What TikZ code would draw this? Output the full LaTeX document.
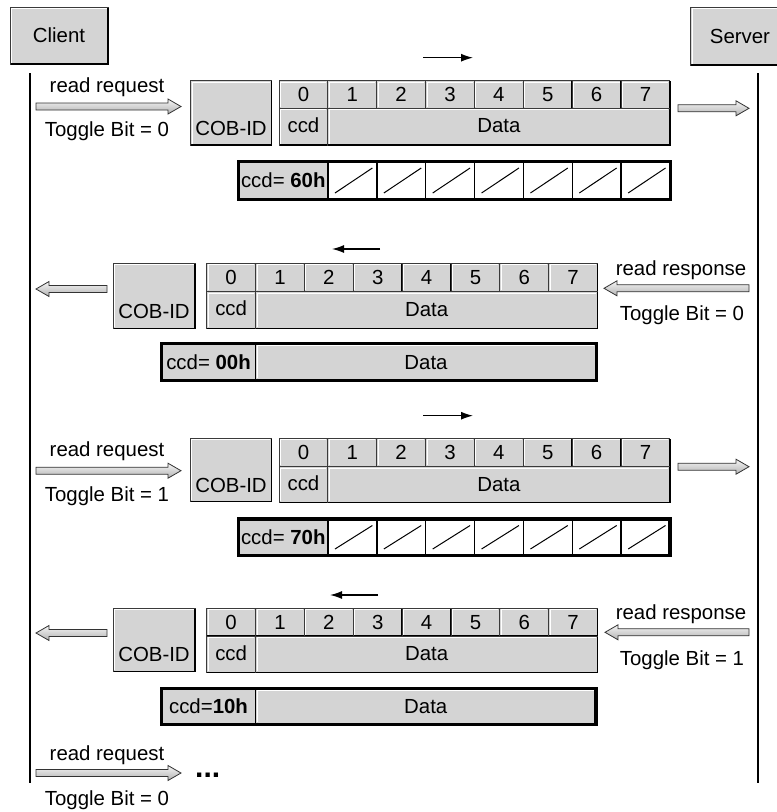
\documentclass[tikz,border=0pt]{standalone}
\usepackage{fontspec}
\setmainfont{Liberation Sans}
\usetikzlibrary{arrows.meta}
\definecolor{cellgray}{HTML}{D4D4D4}
\definecolor{edgedark}{HTML}{3A3A3A}
\tikzset{
  lbl/.style={font=\fontsize{20.4}{24}\selectfont, inner sep=0pt, text height=14.6pt, text depth=0pt},
  lifeline/.style={line width=1.5pt, black},
  dirarrow/.style={line width=1.3pt, -{Latex[length=12pt,width=8pt]}},
  hollow/.style={draw=black!80, line width=0.8pt, top color=gray!8, bottom color=gray!60},
  ccdframe/.style={line width=3.2pt, black},
  ccdsep/.style={line width=1.5pt, black},
  slash/.style={line width=1pt, black},
}
\newcommand{\bevelbox}[4]{%
  \fill[cellgray] (#1,#2) rectangle (#3,#4);
  \draw[white, line width=1pt] (#1+1.5,#4-1.5) -- (#1+1.5,#2+1.5) -- (#3-1.5,#2+1.5);
  \draw[edgedark, line width=0.8pt] (#1,#2) rectangle (#3,#4);
  \draw[black, line width=1.4pt] (#1+0.5,#4) -- (#3,#4) -- (#3,#2+0.5);
}
\newcommand{\hollowarrow}[4]{%
  \pgfmathsetmacro\hx{(#3>#2)?(#3-13):(#3+13)}
  \coordinate (#1s) at (#2,#4);
  \coordinate (#1e) at (#3,#4);
  \path[hollow] (#2,#4-3.5) -- (\hx,#4-3.5) -- (\hx,#4-7.5) -- (#3,#4) -- (\hx,#4+7.5) -- (\hx,#4+3.5) -- (#2,#4+3.5) -- cycle;
}
\newcommand{\hdrtable}[5]{%
  \foreach \i in {0,...,7}{
    \pgfmathsetmacro\xa{#2+\i*48.86}
    \pgfmathsetmacro\xb{#2+(\i+1)*48.86}
    \bevelbox{\xa}{#3}{\xb}{#4}
    \node[lbl] (#1h\i) at ({(\xa+\xb)/2},{(#3+#4)/2}) {\i};
  }
  \pgfmathsetmacro\xc{#2+48.86}
  \pgfmathsetmacro\xd{#2+8*48.86}
  \bevelbox{#2}{#4}{\xc}{#5}
  \bevelbox{\xc}{#4}{\xd}{#5}
  \node[lbl] (#1ccd) at ({(#2+\xc)/2},{(#4+#5)/2-1.5}) {ccd};
  \node[lbl] (#1data) at ({(\xc+\xd)/2},{(#4+#5)/2-1}) {Data};
}
% ccd row with slashes: prefix, xL, xsplit, xR, ytop, ybot, text
\newcommand{\ccdslash}[7]{%
  \fill[cellgray] (#2,#5) rectangle (#3,#6);
  \fill[white] (#3,#5) rectangle (#4,#6);
  \foreach \k in {0,...,6}{
    \pgfmathsetmacro\sa{#3+\k*48.86}
    \pgfmathsetmacro\sb{#3+(\k+1)*48.86}
    \draw[ccdsep] (\sa,#5) -- (\sa,#6);
    \draw[slash] (\sa+7,#6-6.5) -- (\sb-4.5,#5+6.5);
  }
  \draw[ccdframe] (#2,#5) rectangle (#4,#6);
  \node[lbl] (#1) at ({(#2+#3)/2},{(#5+#6)/2}) {#7};
}
% ccd row with data: prefix, xL, xsplit, xR, ytop, ybot, text
\newcommand{\ccddata}[7]{%
  \fill[cellgray] (#2,#5) rectangle (#4,#6);
  \draw[white, line width=1pt] (#3+2,#6-2.5) -- (#3+2,#5+2.5) -- (#4-2.5,#5+2.5);
  \draw[ccdsep] (#3,#5) -- (#3,#6);
  \draw[ccdframe] (#2,#5) rectangle (#4,#6);
  \node[lbl] (#1) at ({(#2+#3)/2},{(#5+#6)/2}) {#7};
  \node[lbl] (#1d) at ({(#3+#4)/2},{(#5+#6)/2}) {Data};
}
\begin{document}
\begin{tikzpicture}[x=1pt,y=-1pt]
\useasboundingbox (0,0) rectangle (777,812);
\fill[white] (0,0) rectangle (777,812);

% participants
\bevelbox{10}{7}{108}{64}
\node[lbl] (client) at (59,35.5) {Client};
\bevelbox{690.7}{7}{790}{65}
\node[lbl] (server) at (740,36) {Server};
\coordinate (cl0) at (30,73); \coordinate (cl1) at (30,783);
\coordinate (sl0) at (758,73); \coordinate (sl1) at (758,783);
\draw[lifeline] (cl0) -- (cl1);
\draw[lifeline] (sl0) -- (sl1);

% ---------- section 1 ----------
\node[lbl] (rq1) at (107,85.5) {read request};
\node[lbl] (tb1) at (107,129) {Toggle Bit = 0};
\hollowarrow{a1}{36}{181}{106.5}
\bevelbox{190.7}{80.7}{271.7}{145}
\node[lbl] (cob1) at (231,127.7) {COB-ID};
\hdrtable{t1}{279}{80.7}{108.3}{145}
\coordinate (d1s) at (423,57.7); \coordinate (d1e) at (473,57.7);
\draw[dirarrow] (d1s) -- (d1e);
\hollowarrow{b1}{678}{749}{108.3}
\ccdslash{c1}{238.5}{328}{670.5}{161.5}{199.5}{ccd= \textbf{60h}}

% ---------- section 2 ----------
\coordinate (d2s) at (380,249); \coordinate (d2e) at (332,249);
\draw[dirarrow] (d2s) -- (d2e);
\bevelbox{113}{263.3}{195}{328.3}
\node[lbl] (cob2) at (154,310.7) {COB-ID};
\hdrtable{t2}{206.7}{263.3}{291.7}{328.3}
\hollowarrow{a2}{107}{36}{289}
\node[lbl] (rs2) at (681,268) {read response};
\node[lbl] (tb2) at (682,313.4) {Toggle Bit = 0};
\hollowarrow{b2}{749}{604}{288.3}
\ccddata{c2}{161.5}{255.5}{596.5}{343.3}{380.3}{ccd= \textbf{00h}}

% ---------- section 3 ----------
\node[lbl] (rq3) at (107,449.5) {read request};
\node[lbl] (tb3) at (107,494) {Toggle Bit = 1};
\hollowarrow{a3}{36}{181}{470.7}
\bevelbox{190}{438.3}{271.7}{501.7}
\node[lbl] (cob3) at (231,485.3) {COB-ID};
\hdrtable{t3}{279}{438.3}{466.7}{502.7}
\coordinate (d3s) at (423,415.7); \coordinate (d3e) at (473,415.7);
\draw[dirarrow] (d3s) -- (d3e);
\hollowarrow{b3}{678}{749}{466.7}
\ccdslash{c3}{238.5}{328}{670}{519}{555.5}{ccd= \textbf{70h}}

% ---------- section 4 ----------
\coordinate (d4s) at (378,595); \coordinate (d4e) at (330,595);
\draw[dirarrow] (d4s) -- (d4e);
\bevelbox{113}{608.3}{195}{671.7}
\node[lbl] (cob4) at (154,654) {COB-ID};
\hdrtable{t4}{206.7}{608.3}{636}{672.7}
\hollowarrow{a4}{107}{36}{633}
\node[lbl] (rs4) at (681,612) {read response};
\node[lbl] (tb4) at (682,658.4) {Toggle Bit = 1};
\hollowarrow{b4}{749}{605}{632.3}
\ccddata{c4}{161.5}{255.5}{596}{688.3}{724.5}{ccd=\textbf{10h}}

% ---------- final ----------
\node[lbl] (rq5) at (107,753.4) {read request};
\node[lbl] (tb5) at (107,797.7) {Toggle Bit = 0};
\hollowarrow{a5}{36}{181}{773}
\node[font=\fontsize{30}{34}\selectfont\bfseries, inner sep=0pt, anchor=base west] (dots) at (195,777.5) {...};
\end{tikzpicture}
\end{document}
